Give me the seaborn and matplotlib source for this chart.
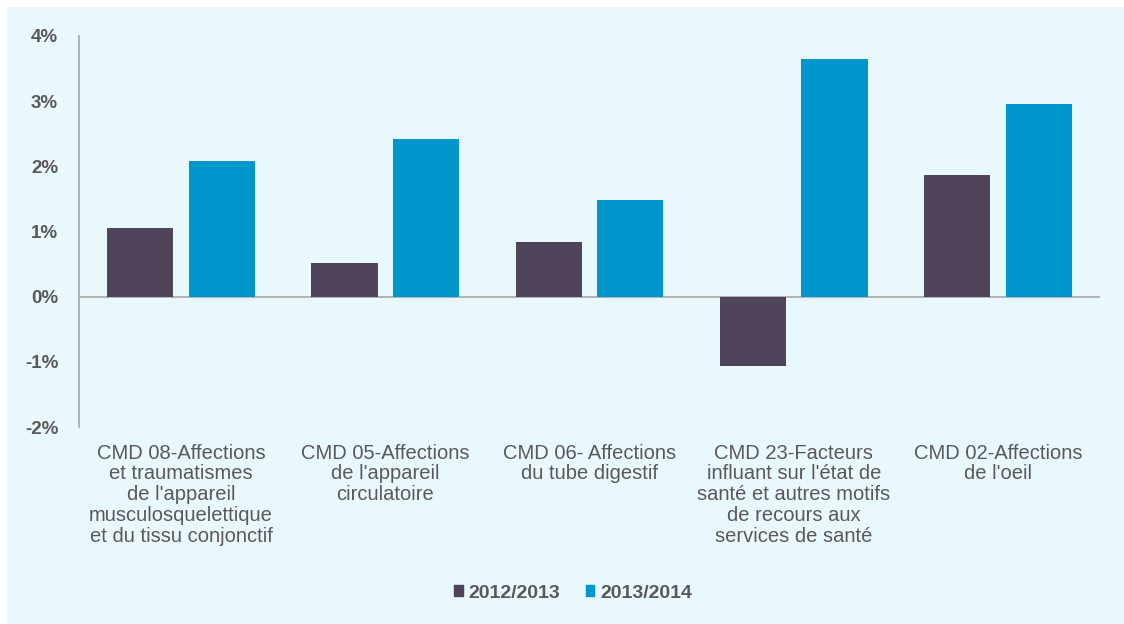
import matplotlib
matplotlib.use("Agg")
import matplotlib.pyplot as plt
import matplotlib.patches as mpatches
from matplotlib.ticker import FuncFormatter
import pandas as pd
import seaborn as sns

categories = [
    "CMD 08-Affections\net traumatismes\nde l'appareil\nmusculosquelettique\net du tissu conjonctif",
    "CMD 05-Affections\nde l'appareil\ncirculatoire",
    "CMD 06- Affections\ndu tube digestif",
    "CMD 23-Facteurs\ninfluant sur l'état de\nsanté et autres motifs\nde recours aux\nservices de santé",
    "CMD 02-Affections\nde l'oeil",
]
series_names = ["2012/2013", "2013/2014"]
values_2012_2013 = [1.06, 0.52, 0.84, -1.06, 1.86]
values_2013_2014 = [2.08, 2.42, 1.49, 3.64, 2.96]
y_ticks = [-2, -1, 0, 1, 2, 3, 4]

colors = ["#4f4459", "#0097cc"]
bg = "#e8f8fd"
txt = "#595959"

df = pd.DataFrame({
    "cat": categories * 2,
    "serie": [series_names[0]] * 5 + [series_names[1]] * 5,
    "val": values_2012_2013 + values_2013_2014,
})

sns.set_theme(style="white")
plt.rcParams["font.family"] = ["Liberation Sans", "DejaVu Sans"]

fig = plt.figure(figsize=(11.24, 6.24), dpi=100)
fig.patch.set_facecolor("white")
fig.patches.append(mpatches.Rectangle((7 / 1124, 0), 1, 1 - 7 / 624,
                                      transform=fig.transFigure,
                                      facecolor=bg, edgecolor="none", zorder=-10))

ax = fig.add_axes([79 / 1124, 1 - 427 / 624, (1100 - 79) / 1124, (427 - 36) / 624])
ax.set_facecolor(bg)
ax.patch.set_alpha(0)

sns.barplot(data=df, x="cat", y="val", hue="serie", palette=colors,
            width=0.8, gap=0.19, ax=ax, legend=False, saturation=1,
            linewidth=0, edgecolor="none")

ax.set_ylim(-2, 4)
ax.set_xlim(-0.5, 4.5)
ax.set_yticks(y_ticks)
ax.yaxis.set_major_formatter(FuncFormatter(lambda v, p: f"{int(v)}%"))
ax.axhline(0, color="#a6a6a6", lw=1.2, zorder=0)

for s in ["top", "right", "bottom"]:
    ax.spines[s].set_visible(False)
ax.spines["left"].set_color("#a6a6a6")
ax.spines["left"].set_linewidth(1.2)

ax.set_xlabel("")
ax.set_ylabel("")
ax.tick_params(axis="y", length=0, pad=15, labelsize=13.5, labelcolor=txt)
for t in ax.get_yticklabels():
    t.set_fontweight("bold")
ax.tick_params(axis="x", length=0, pad=12, labelsize=14.5, labelcolor=txt)
for t in ax.get_xticklabels():
    t.set_linespacing(1.12)
    t.set_va("top")
    t.set_ha("center")
    t.set_multialignment("center")

handles = [mpatches.Patch(color=c, label=n) for c, n in zip(colors, series_names)]
leg = fig.legend(handles=handles, loc="center", bbox_to_anchor=(573 / 1124, 1 - 593 / 624),
                 ncol=2, frameon=False, handlelength=0.45, handleheight=0.45,
                 handletextpad=0.3, columnspacing=1.3, fontsize=14)
for t in leg.get_texts():
    t.set_color(txt)
    t.set_fontweight("bold")

fig.savefig("out.png", dpi=100, facecolor=fig.get_facecolor())
